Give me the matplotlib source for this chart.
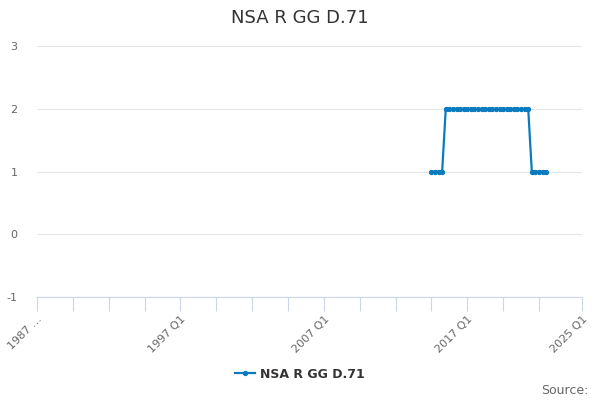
import numpy as np
import matplotlib.pyplot as plt

plt.rcParams['axes.unicode_minus'] = False

# quarterly series, index 0 = 1987 Q1
start_year = 1987
n_quarters = 153  # through 2025 Q1
first_idx = 110   # 2014 Q3
values = [1, 1, 1, 1] + [2] * 24 + [1, 1, 1, 1, 1]
series_name = 'NSA R GG D.71'
tick_idx = [0, 40, 80, 120, 152]
tick_labels = ['1987 …', '1997 Q1', '2007 Q1', '2017 Q1', '2025 Q1']

x = np.arange(first_idx, first_idx + len(values))

fig = plt.figure(figsize=(6, 4), dpi=100)
ax = fig.add_axes([37 / 600, 1 - 297 / 400, 545 / 600, 251 / 400])

ax.plot(x, values, '-', color='#0a7bbf', lw=1.6, marker='o', markersize=2.8,
        label=series_name)

ax.set_xlim(0, n_quarters - 1)
ax.set_ylim(-1, 3)
ax.set_yticks([-1, 0, 1, 2, 3])
ax.grid(axis='y', color='#e6e6e6', lw=0.8)
ax.set_axisbelow(True)

# ticks every 10 quarters, last one dropped near the end
ticks = list(range(0, 141, 10)) + [152]
labels = []
for i in ticks:
    labels.append(tick_labels[tick_idx.index(i)] if i in tick_idx else '')
ax.set_xticks(ticks)
ax.set_xticklabels(labels, rotation=45, ha='right', rotation_mode='anchor',
                   fontsize=8, color='#666666')
ax.tick_params(axis='x', length=10, color='#ccd6eb', width=0.8, pad=2)
ax.tick_params(axis='y', length=0, labelsize=8, colors='#666666', pad=14)

for s in ['top', 'right', 'left']:
    ax.spines[s].set_visible(False)
ax.spines['bottom'].set_color('#ccd6eb')

fig.text(0.5, 1 - 18 / 400, series_name, ha='center', va='center',
         fontsize=13, color='#333333')
fig.legend(loc='center', bbox_to_anchor=(0.5, 1 - 374 / 400), frameon=False,
           prop={'weight': 'bold', 'size': 9}, labelcolor='#333333',
           handlelength=1.6, handletextpad=0.4)
fig.text(589 / 600, 1 - 390 / 400, 'Source:', ha='right', va='center',
         fontsize=9, color='#666666')

fig.savefig('out.png')
